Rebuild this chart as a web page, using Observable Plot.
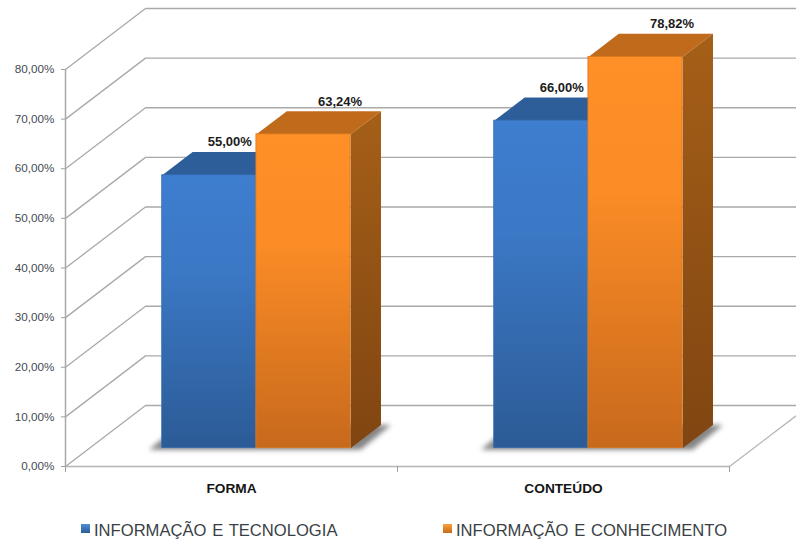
<!DOCTYPE html>
<html lang="pt-BR">
<head>
<meta charset="utf-8">
<script src="https://cdn.jsdelivr.net/npm/d3@7"></script>
<script src="https://cdn.jsdelivr.net/npm/@observablehq/plot@0.6"></script>
<style>
  html, body { margin: 0; padding: 0; background: #fff; overflow: hidden; }
  body { width: 796px; height: 541px; font-family: "Liberation Sans", Arial, sans-serif; }
  #legend { position: relative; height: 31px; color: #3a3f45; font-size: 16.6px; line-height: 31px; word-spacing: 1.1px; }
  #legend span.item { position: absolute; top: 5px; white-space: nowrap; }
  #legend i { position: absolute; top: 14px; width: 9px; height: 9px; }
</style>
</head>
<body>
<div id="chart"></div>
<div id="legend"></div>
<script>
// Survey results per category, in percent
const categories = ["FORMA", "CONTEÚDO"];
const tecnologia = [55.0, 66.0];
const conhecimento = [63.24, 78.82];
const seriesNames = ["INFORMAÇÃO E TECNOLOGIA", "INFORMAÇÃO E CONHECIMENTO"];
const yTicks = [0, 10, 20, 30, 40, 50, 60, 70, 80];

const comma = d3.formatLocale({decimal: ",", thousands: ".", grouping: [3], currency: ["R$", ""]});
const pct = (v) => comma.format(".2f")(v) + "%";

// Oblique projection: one unit of depth shifts a point right and up, in scale units
const depthX = 0.241;
const depthY = 12.29;
const yMax = 93.9;
const xMax = 2.2018;
const shift = (x, v, d) => ({x: x + depthX * d, y: v + depthY * d});

// Bars occupy depth 0.3 to 0.68 of the floor
const barFront = 0.3;
const barBack = 0.68;
const gap = 0.219;
const barWidth = 0.2837;

const bars = categories.flatMap((category, i) => [tecnologia[i], conhecimento[i]].map((value, j) => {
  const left = i + gap + j * barWidth;
  return {category, value, series: j, left, right: left + barWidth, id: `${i}-${j}`};
}));

const poly = (id, corners) => corners.map((c) => ({id, ...c}));

const frontFace = (b) => ({
  x1: shift(b.left, 0, barFront).x,
  x2: shift(b.right, 0, barFront).x,
  y1: shift(b.left, 0, barFront).y,
  y2: shift(b.left, b.value, barFront).y
});
const topFace = (b) => poly(b.id, [
  shift(b.left, b.value, barFront), shift(b.right, b.value, barFront),
  shift(b.right, b.value, barBack), shift(b.left, b.value, barBack)
]);
const sideFace = (b) => poly(b.id, [
  shift(b.right, 0, barFront), shift(b.right, b.value, barFront),
  shift(b.right, b.value, barBack), shift(b.right, 0, barBack)
]);
// Soft contact shadow on the floor, a little larger than the pair of bars
const shadowFace = (i) => poly(`s${i}`, [
  shift(i + gap - 0.04, -0.3, barFront), shift(i + gap + 2 * barWidth + 0.03, -0.3, barFront),
  shift(i + gap + 2 * barWidth + 0.03, 0, barBack), shift(i + gap - 0.04, 0, barBack)
]);

// Wall grid: a diagonal on the left wall, then a horizontal on the back wall
const grid = yTicks.flatMap((v) => poly(`g${v}`, [
  shift(0, v, 0), shift(0, v, 1), {x: xMax + 0.05, y: v + depthY}
]));
const floorEdge = poly("floor", [shift(0, 0, 0), shift(2, 0, 0), shift(2, 0, 1)]);
const wallEdge = poly("wall", [shift(0, 0, 0), shift(0, 80, 0)]);

// Vertical gradients used by the faces of the bars
function gradients() {
  const defs = d3.create("svg:defs");
  const add = (id, stops) => {
    const g = defs.append("linearGradient").attr("id", id)
      .attr("x1", 0).attr("y1", 0).attr("x2", 0).attr("y2", 1);
    for (const [o, c] of stops) g.append("stop").attr("offset", o).attr("stop-color", c);
  };
  add("front0", [[0, "#3e7ecf"], [0.35, "#3b78c5"], [1, "#2c5b96"]]);
  add("front1", [[0, "#ff8f27"], [0.35, "#fb8c26"], [1, "#c7691c"]]);
  add("side1", [[0, "#a55f18"], [1, "#804511"]]);
  return defs.node();
}

const face = (data, fill, extra = {}) =>
  Plot.line(data, {x: "x", y: "y", z: "id", fill, stroke: "none", curve: "linear-closed", ...extra});

const marks = [
  gradients,
  Plot.line(grid, {x: "x", y: "y", z: "id", stroke: "#a9a9a9", strokeWidth: 1.3}),
  Plot.line(wallEdge, {x: "x", y: "y", z: "id", stroke: "#a9a9a9", strokeWidth: 1.5}),
  Plot.line(floorEdge, {x: "x", y: "y", z: "id", stroke: "#b5b5b5", strokeWidth: 1.3}),
  face(categories.flatMap((_, i) => shadowFace(i)), "#858585", {imageFilter: "blur(2.5px)"})
];

for (const b of bars) {
  const f = frontFace(b);
  marks.push(
    face(topFace(b), b.series ? "#c06a1c" : "#2d5e9a"),
    face(sideFace(b), b.series ? "url(#side1)" : "#2a5688"),
    Plot.rect([b], {
      x1: () => f.x1, x2: () => f.x2, y1: () => f.y1, y2: () => f.y2,
      fill: `url(#front${b.series})`,
      stroke: b.series ? "#d9781f" : "#356cb0",
      strokeWidth: 0.8
    })
  );
}

// Value labels sit above the top face; each series has its own sideways offset
const labelDx = [20.5, 36.5];

[0, 1].forEach((series) => {
  marks.push(
    Plot.text(bars.filter((b) => b.series === series), {
      x: (b) => shift(b.left + barWidth / 2, 0, barFront).x,
      y: (b) => shift(0, b.value, barFront).y,
      text: (b) => pct(b.value),
      dx: labelDx[series],
      dy: -33,
      fontSize: 13,
      fontWeight: "bold",
      fill: "#1c1c1c"
    })
  );
});

marks.push(
  Plot.axisY({
    ticks: yTicks, tickSize: 4, tickPadding: 7, tickFormat: pct,
    fontSize: 11.7, color: "#444b52", stroke: "#a0a0a0", label: null
  }),
  Plot.axisX({
    ticks: [0, 1, 2], tickSize: 6, tickFormat: () => "", stroke: "#a0a0a0", label: null
  }),
  Plot.text(categories, {
    x: (_, i) => i + 0.5,
    y: () => 0,
    text: (d) => d,
    dy: 22,
    fontSize: 13.7,
    fontWeight: "bold",
    fill: "#151515"
  })
);

const chart = Plot.plot({
  width: 796,
  height: 510,
  marginLeft: 65,
  marginRight: 0,
  marginTop: 0,
  marginBottom: 44,
  style: {fontFamily: '"Liberation Sans", Arial, sans-serif', overflow: "hidden", background: "#fff"},
  x: {domain: [0, xMax], axis: null},
  y: {domain: [0, yMax], axis: null},
  marks
});
document.getElementById("chart").appendChild(chart);

// Legend below the plot
const swatches = ["linear-gradient(#4d8fd6,#2c5b96)", "linear-gradient(#f9a13c,#c7691c)"];
const lefts = [[81, 94], [443, 456]];
const legend = d3.select("#legend");
seriesNames.forEach((name, i) => {
  legend.append("i").style("left", `${lefts[i][0]}px`).style("background", swatches[i]);
  legend.append("span").attr("class", "item").style("left", `${lefts[i][1]}px`).text(name);
});
</script>
</body>
</html>
